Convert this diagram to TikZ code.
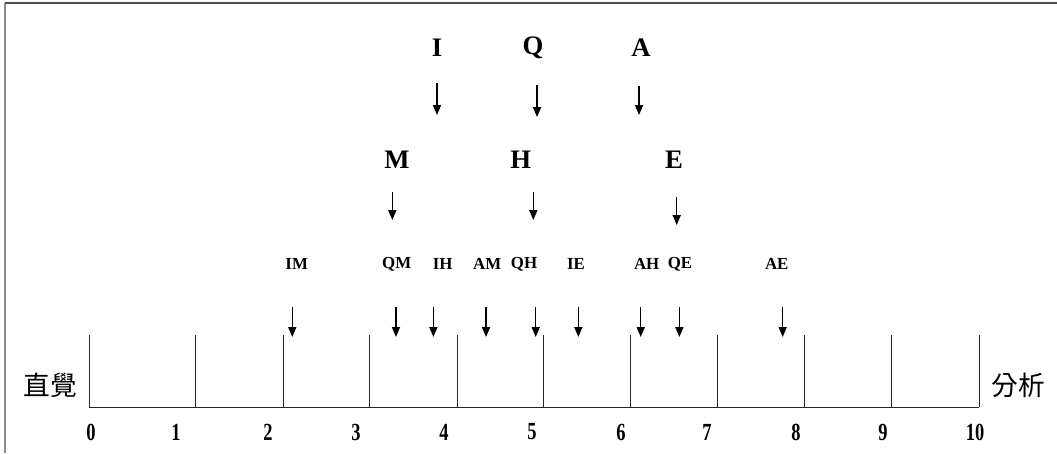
\documentclass[tikz,border=0pt]{standalone}
\usepackage{fontspec}
\setmainfont{Liberation Serif}
\newfontfamily\cjk{Noto Sans CJK TC}
\newfontfamily\numfont[FakeStretch=0.75]{Liberation Serif}
\usepackage{tikz}
\usetikzlibrary{arrows.meta}
\definecolor{framegray}{rgb}{0.55, 0.55, 0.55}
\definecolor{topgray}{rgb}{0.3, 0.3, 0.3}
\tikzset{
	big/.style={font=\fontsize{19}{21}\selectfont\bfseries},
	small/.style={font=\fontsize{12}{14}\selectfont\bfseries},
	num/.style={font=\numfont\fontsize{17.5}{19}\selectfont\bfseries},
	side/.style={font=\cjk\fontsize{19}{21}\selectfont},
	tick/.style={black!85, line width=0.7pt},
	down/.style={line width=1pt, -{Triangle[length=7pt, width=5.7pt]}},
}

\begin{document}
\begin{tikzpicture}[x=2.225cm, y=2.225cm]
		\useasboundingbox (-1,-0.517) rectangle (10.876,4.573);
		% frame
		\coordinate (fb) at (-0.944,-0.517);
		\coordinate (fc) at (-0.944,4.539);
		\coordinate (fr) at (10.876,4.539);
		\draw [framegray, line width=1pt] (fb)--(fc);
		\draw [topgray, line width=1pt] (fc)--(fr);
		% scale:
		\foreach \i/\x in {0/0,1/1.191,2/2.180,3/3.157,4/4.135,5/5.101,6/6.079,7/7.056,8/8.034,9/9.011,10/10}{
			\coordinate (t\i) at (\x,0);
			\draw [tick] (t\i)--++(0,0.809);
		}
		\draw [tick] (t0)--(t10);
		\foreach \i/\x in {0/0.022,1/0.978,2/2.011,3/3.0,4/3.989,5/4.978,6/5.978,7/6.944,8/7.944,9/8.921,10/9.955}{
			\node [num] (n\i) at (\x,-0.281) {\i};
		}
		\node [side] (left) at (-0.438,0.247) {直覺};
		\node [side] (right) at (10.438,0.247) {分析};
		% letters
		\foreach \n/\x in {I/3.910,Q/4.989,A/6.202}{
			\node [big] (\n) at (\x,4.034) {\n};
		}
		\foreach \n/\x in {M/3.461,H/4.851,E/6.573}{
			\node [big] (\n) at (\x,2.775) {\n};
		}
		\foreach \n/\x in {IM/2.334,QM/3.457,IH/3.974,AM/4.475,QH/4.888,IE/5.472,AH/6.266,QE/6.640,AE/7.727}{
			\node [small] (\n) at (\x,1.607) {\n};
		}
		% arrows
		\foreach \n/\x/\a/\b in {I/3.910/3.640/3.281, Q/5.034/3.618/3.258, A/6.180/3.607/3.281,
				M/3.408/2.416/2.101, H/4.992/2.416/2.101, E/6.603/2.360/2.045}{
			\coordinate (a\n) at (\x,\a);
			\coordinate (b\n) at (\x,\b);
			\draw [down] (a\n)--(b\n);
		}
		\foreach \n/\x in {IM/2.284,QM/3.449,IH/3.869,AM/4.461,QH/5.019,IE/5.498,AH/6.199,QE/6.633,AE/7.794}{
			\coordinate (a\n) at (\x,1.124);
			\coordinate (b\n) at (\x,0.787);
			\draw [down] (a\n)--(b\n);
		}
	\end{tikzpicture}
\end{document}
